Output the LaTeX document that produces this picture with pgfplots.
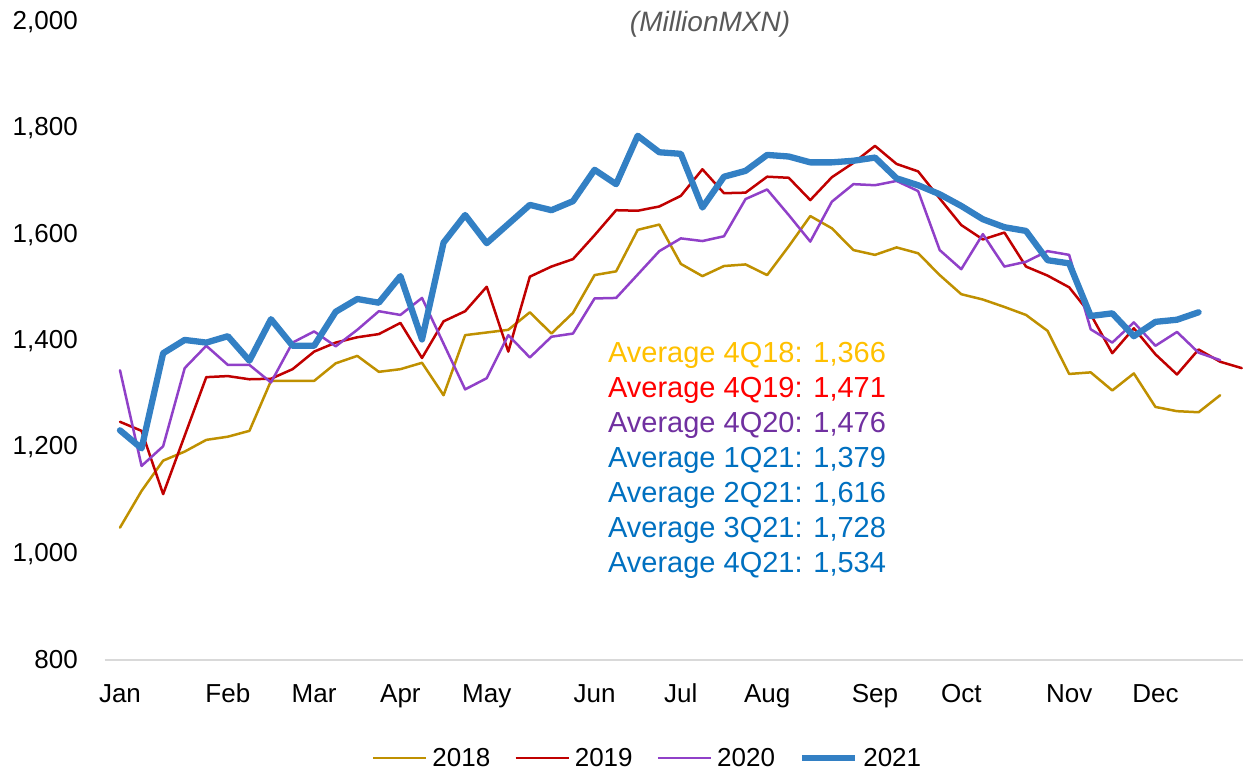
\documentclass[border=0pt]{standalone}
\usepackage{pgfplots}
\pgfplotsset{compat=1.18}
\usepackage{fontspec}
\setmainfont{Liberation Sans}
\definecolor{c18}{RGB}{191,144,0}
\definecolor{c19}{RGB}{192,0,0}
\definecolor{c20}{RGB}{144,64,200}
\definecolor{c21}{RGB}{51,128,196}
\definecolor{a18}{RGB}{255,192,0}
\definecolor{a19}{RGB}{255,0,0}
\definecolor{a20}{RGB}{112,48,160}
\definecolor{a21}{RGB}{0,112,192}
\definecolor{ttl}{RGB}{89,89,89}
\definecolor{axl}{RGB}{217,217,217}
\begin{document}
\begin{tikzpicture}
\begin{axis}[
  scale only axis, width=1138.3pt, height=638pt,
  xmin=-0.709, xmax=52.06, ymin=800, ymax=2000,
  clip=false,
  axis x line*=bottom, axis y line*=left,
  y axis line style={draw=none},
  x axis line style={-, draw=axl, line width=1.5pt},
  major tick length=0pt, tick style={draw=none},
  ytick={800,1000,1200,1400,1600,1800,2000},
  xtick={0,5,9,13,17,22,26,30,35,39,44,48},
  xticklabels={Jan,Feb,Mar,Apr,May,Jun,Jul,Aug,Sep,Oct,Nov,Dec},
  /pgf/number format/.cd, fixed, precision=0, 1000 sep={,}, assume math mode=true, /pgfplots/.cd,
  ticklabel style={font=\fontsize{26}{31}\selectfont, inner sep=0pt},
  yticklabel style={anchor=east, xshift=-26.7pt},
  xticklabel style={anchor=north, text height=18.6pt, text depth=5.5pt, yshift=-23.7pt},
  legend columns=4,
  legend style={draw=none, fill=none, inner sep=0pt, outer sep=0pt,
    at={(0.2348,-0.1536)}, anchor=west,
    font=\fontsize{26}{31}\selectfont,
    nodes={inner sep=0pt},
    /tikz/every odd column/.append style={column sep=5pt},
    /tikz/every even column/.append style={column sep=24pt}},
  legend image code/.code={\draw[#1, line cap=butt] (0pt,0pt) -- (53pt,0pt);},
  every axis plot/.append style={line join=round, line cap=round},
]
\addplot[c18, line width=2.5pt] coordinates {
(0,1049)(1,1118)(2,1175)(3,1192)(4,1214)(5,1220)(6,1231)(7,1325)(8,1325)(9,1325)
(10,1358)(11,1372)(12,1342)(13,1347)(14,1359)(15,1298)(16,1411)(17,1416)(18,1421)(19,1454)
(20,1414)(21,1453)(22,1524)(23,1531)(24,1609)(25,1619)(26,1545)(27,1522)(28,1541)(29,1544)
(30,1524)(31,1578)(32,1635)(33,1612)(34,1571)(35,1562)(36,1576)(37,1565)(38,1524)(39,1488)
(40,1478)(41,1464)(42,1449)(43,1419)(44,1338)(45,1341)(46,1307)(47,1339)(48,1276)(49,1268)
(50,1266)(51,1298)};
\addlegendentry{2018}
\addplot[c19, line width=2.5pt] coordinates {
(0,1248)(1,1231)(2,1112)(3,1222)(4,1332)(5,1334)(6,1328)(7,1329)(8,1347)(9,1380)
(10,1397)(11,1407)(12,1413)(13,1434)(14,1368)(15,1437)(16,1456)(17,1502)(18,1380)(19,1521)
(20,1540)(21,1554)(22,1599)(23,1646)(24,1645)(25,1653)(26,1673)(27,1723)(28,1678)(29,1679)
(30,1709)(31,1707)(32,1665)(33,1708)(34,1735)(35,1767)(36,1733)(37,1719)(38,1668)(39,1618)
(40,1591)(41,1604)(42,1540)(43,1523)(44,1501)(45,1450)(46,1377)(47,1424)(48,1375)(49,1337)
(50,1384)(51,1361)(52,1349)};
\addlegendentry{2019}
\addplot[c20, line width=2.5pt] coordinates {
(0,1345)(1,1165)(2,1202)(3,1349)(4,1391)(5,1355)(6,1355)(7,1322)(8,1397)(9,1418)
(10,1390)(11,1421)(12,1456)(13,1449)(14,1481)(15,1395)(16,1309)(17,1330)(18,1411)(19,1369)
(20,1408)(21,1414)(22,1480)(23,1481)(24,1525)(25,1569)(26,1593)(27,1588)(28,1597)(29,1667)
(30,1685)(31,1637)(32,1587)(33,1662)(34,1695)(35,1693)(36,1701)(37,1682)(38,1571)(39,1535)
(40,1601)(41,1540)(42,1549)(43,1569)(44,1562)(45,1422)(46,1397)(47,1435)(48,1391)(49,1417)
(50,1378)(51,1364)};
\addlegendentry{2020}
\addplot[c21, line width=6.3pt] coordinates {
(0,1232)(1,1198)(2,1377)(3,1402)(4,1397)(5,1409)(6,1363)(7,1441)(8,1391)(9,1391)
(10,1455)(11,1479)(12,1472)(13,1522)(14,1403)(15,1585)(16,1637)(17,1584)(18,1620)(19,1656)
(20,1646)(21,1663)(22,1722)(23,1695)(24,1786)(25,1755)(26,1752)(27,1651)(28,1709)(29,1720)
(30,1750)(31,1747)(32,1736)(33,1736)(34,1739)(35,1745)(36,1706)(37,1693)(38,1676)(39,1654)
(40,1629)(41,1614)(42,1607)(43,1552)(44,1546)(45,1447)(46,1452)(47,1409)(48,1436)(49,1440)
(50,1454)};
\addlegendentry{2021}
\begin{scope}[every node/.style={anchor=base west, inner sep=0pt, font=\fontsize{29}{35}\selectfont}]
\node[text=a18] at (axis cs:22.62,1359.2) {Average 4Q18: 1,366};
\node[text=a19] at (axis cs:22.62,1293.4) {Average 4Q19: 1,471};
\node[text=a20] at (axis cs:22.62,1227.5) {Average 4Q20: 1,476};
\node[text=a21] at (axis cs:22.62,1161.7) {Average 1Q21: 1,379};
\node[text=a21] at (axis cs:22.62,1095.9) {Average 2Q21: 1,616};
\node[text=a21] at (axis cs:22.62,1030.0) {Average 3Q21: 1,728};
\node[text=a21] at (axis cs:22.62,964.2) {Average 4Q21: 1,534};
\end{scope}
\node[text=ttl, font=\fontsize{28}{34}\selectfont\itshape, inner sep=0pt] at (rel axis cs:0.5318,0.9968) {(MillionMXN)};
\end{axis}
\pgfresetboundingbox
\path (-104.7pt,-111pt) rectangle (1138.3pt,660pt);
\end{tikzpicture}
\end{document}
